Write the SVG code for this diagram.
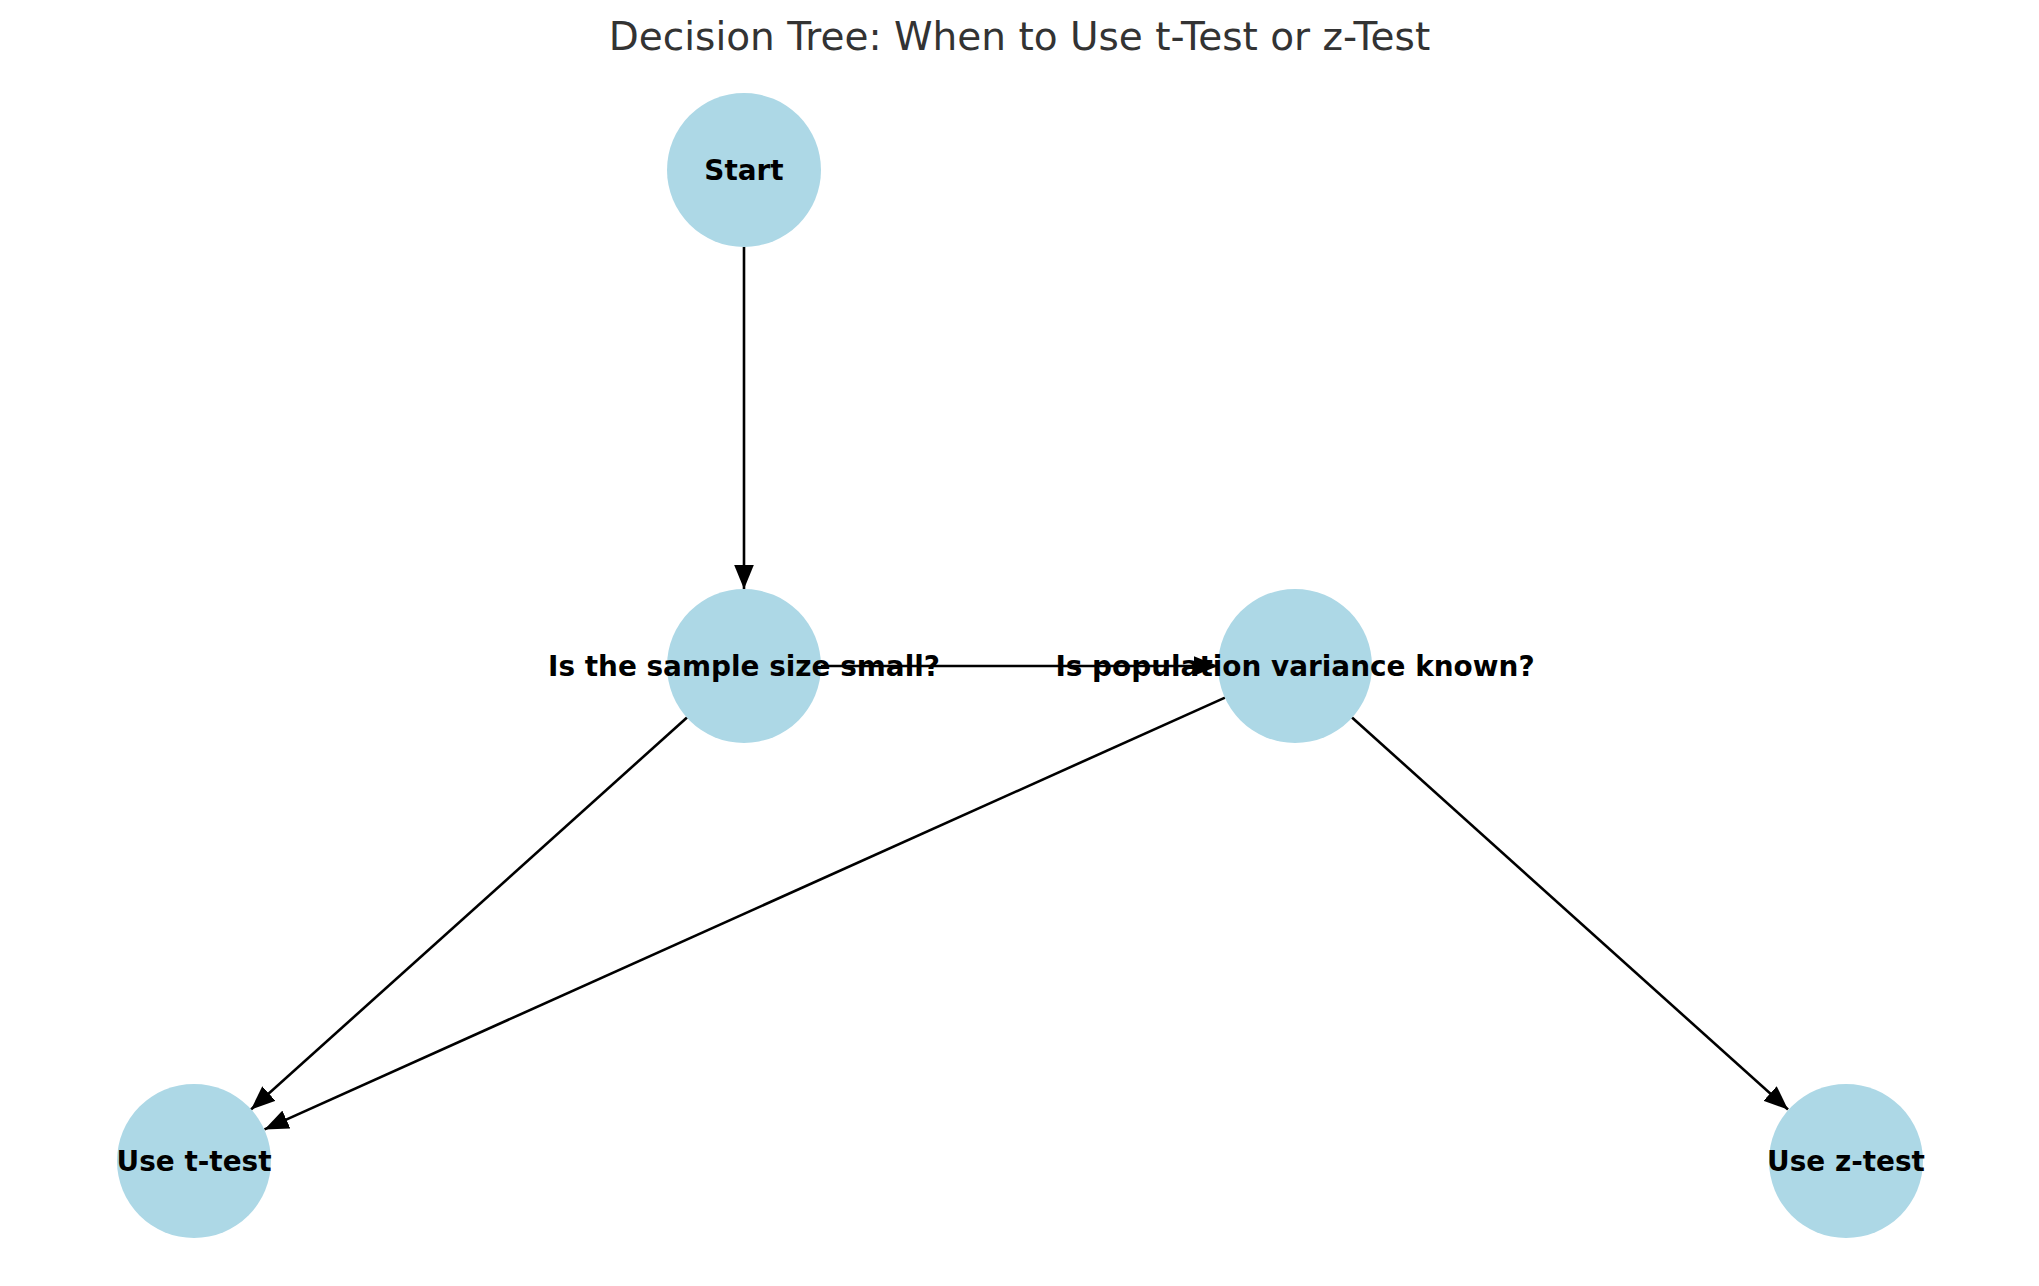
<svg xmlns="http://www.w3.org/2000/svg" width="2039" height="1286" viewBox="0 0 2039 1286">
<style>
.title{font-family:"DejaVu Sans",sans-serif;font-size:39px;fill:#333333;text-anchor:middle}
.node circle{fill:#ADD8E6}
.node text{font-family:"DejaVu Sans",sans-serif;font-weight:bold;font-size:27.9px;fill:#000;text-anchor:middle}
.edge{stroke:#000;stroke-width:2.6;fill:none;marker-end:url(#arr)}
</style>
<defs>
<marker id="arr" markerUnits="userSpaceOnUse" markerWidth="24" markerHeight="20" refX="22" refY="9" orient="auto" viewBox="0 0 22 18">
<path d="M0,0 L22,9 L0,18 Z" fill="#000"/>
</marker>
</defs>
<rect width="2039" height="1286" fill="#fff"/>
<text class="title" x="1019.5" y="50">Decision Tree: When to Use t-Test or z-Test</text>
<g id="edges">
<line class="edge" x1="744" y1="247" x2="744" y2="589"/>
<line class="edge" x1="821" y1="666" x2="1218" y2="666"/>
<line class="edge" x1="687" y1="717.5" x2="251" y2="1109.5"/>
<line class="edge" x1="1225" y1="697.6" x2="264.5" y2="1129.4"/>
<line class="edge" x1="1352" y1="717.5" x2="1788" y2="1109.5"/>
</g>
<g id="node-start" class="node"><circle cx="744" cy="170" r="77"/><text x="744" y="180">Start</text></g>
<g id="node-sample" class="node"><circle cx="744" cy="666" r="77"/><text x="744" y="676">Is the sample size small?</text></g>
<g id="node-variance" class="node"><circle cx="1295" cy="666" r="77"/><text x="1295" y="676">Is population variance known?</text></g>
<g id="node-ttest" class="node"><circle cx="194" cy="1161" r="77"/><text x="194" y="1171">Use t-test</text></g>
<g id="node-ztest" class="node"><circle cx="1846" cy="1161" r="77"/><text x="1846" y="1171">Use z-test</text></g>
</svg>
